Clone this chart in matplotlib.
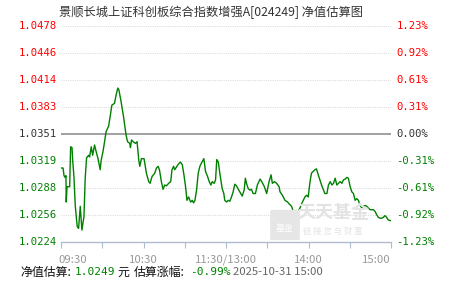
import matplotlib
matplotlib.use('Agg')
import matplotlib.pyplot as plt
from matplotlib.patches import FancyBboxPatch

plt.rcParams['font.family'] = ['Noto Sans CJK SC', 'DejaVu Sans']

# data: minutes since 09:30 (trading minutes, lunch break removed) and estimated NAV
minutes = [0, 1.5, 2.2, 2.9, 3.6, 3.8, 4.4, 6.3, 7.0, 8.0, 8.5, 9.4, 10.4, 11.8, 12.8, 14.0,
           15.2, 16.7, 17.6, 18.6, 20.1, 20.8, 22.0, 23.0, 24.4, 25.6, 26.8, 28.5, 29.2, 30.5,
           31.7, 32.8, 34.6, 35.7, 37.0, 38.9, 40.1, 41.3, 42.1, 43.7, 45.5, 47.3, 48.4, 50.0,
           50.5, 51.3, 52.4, 54.2, 55.3, 56.6, 57.3, 58.5, 60.4, 62.1, 63.8, 64.8, 66.2, 68.2,
           69.4, 70.6, 71.6, 73.0, 74.2, 75.4, 76.6, 78.3, 79.8, 80.7, 81.9, 82.7, 83.9, 85.1,
           86.8, 88.2, 89.4, 90.6, 91.6, 92.8, 94.3, 95.5, 96.4, 97.4, 98.6, 99.8, 101.0, 102.2,
           103.9, 105.1, 106.6, 107.8, 109.0, 110.0, 111.4, 112.4, 113.3, 114.4, 115.5, 117.2,
           118.4, 119.1, 120.4, 121.6, 122.8, 124.0, 125.2, 126.4, 127.6, 129.3, 130.7, 131.8,
           133.2, 134.1, 134.9, 136.1, 137.3, 138.5, 139.7, 141.4, 142.8, 144.8, 146.0, 147.9,
           149.6, 151.3, 152.8, 153.7, 155.2, 156.8, 158.6, 159.3, 161.0, 162.9, 164.8, 165.8,
           167.7, 168.9, 170.2, 171.3, 172.6, 173.8, 175.0, 176.2, 177.4, 178.6, 179.8, 180.5,
           181.3, 182.2, 183.5, 184.7, 185.8, 187.1, 188.3, 189.5, 190.7, 191.9, 193.4, 194.5,
           195.8, 197.0, 198.2, 199.4, 200.6, 201.8, 203.0, 204.3, 205.4, 206.7, 207.9, 209.0,
           210.3, 211.5, 212.7, 213.9, 215.1, 216.3, 217.5, 218.8, 219.9, 221.2, 222.4, 223.5,
           224.8, 226.0, 227.2, 228.4, 229.6, 230.8, 232.0, 233.3, 234.4, 235.6, 236.8, 238.0,
           240.0]
nav = [1.0311, 1.0311, 1.0302, 1.0300, 1.0302, 1.0271, 1.0289, 1.0289, 1.0336, 1.0335, 1.0320,
       1.0301, 1.0266, 1.0242, 1.0240, 1.0266, 1.0238, 1.0254, 1.0299, 1.0323, 1.0326, 1.0324,
       1.0336, 1.0326, 1.0338, 1.0330, 1.0323, 1.0309, 1.0320, 1.0330, 1.0342, 1.0354, 1.0360,
       1.0371, 1.0385, 1.0387, 1.0397, 1.0405, 1.0403, 1.0389, 1.0371, 1.0350, 1.0342, 1.0340,
       1.0335, 1.0344, 1.0342, 1.0340, 1.0342, 1.0320, 1.0313, 1.0322, 1.0322, 1.0305, 1.0295,
       1.0293, 1.0301, 1.0305, 1.0311, 1.0313, 1.0309, 1.0295, 1.0286, 1.0291, 1.0290, 1.0293,
       1.0295, 1.0309, 1.0313, 1.0309, 1.0312, 1.0315, 1.0318, 1.0315, 1.0303, 1.0289, 1.0273,
       1.0277, 1.0271, 1.0273, 1.0270, 1.0273, 1.0285, 1.0305, 1.0313, 1.0317, 1.0322, 1.0307,
       1.0301, 1.0295, 1.0291, 1.0295, 1.0293, 1.0297, 1.0321, 1.0318, 1.0305, 1.0287, 1.0281,
       1.0273, 1.0271, 1.0273, 1.0272, 1.0277, 1.0283, 1.0292, 1.0290, 1.0285, 1.0281, 1.0278,
       1.0285, 1.0299, 1.0293, 1.0287, 1.0285, 1.0286, 1.0281, 1.0281, 1.0291, 1.0298, 1.0295,
       1.0289, 1.0281, 1.0295, 1.0303, 1.0293, 1.0295, 1.0293, 1.0289, 1.0283, 1.0279, 1.0273,
       1.0271, 1.0269, 1.0266, 1.0260, 1.0256, 1.0257, 1.0260, 1.0264, 1.0269, 1.0273, 1.0277,
       1.0279, 1.0277, 1.0287, 1.0297, 1.0305, 1.0307, 1.0309, 1.0310, 1.0303, 1.0297, 1.0291,
       1.0286, 1.0281, 1.0281, 1.0291, 1.0295, 1.0291, 1.0293, 1.0299, 1.0291, 1.0293, 1.0295,
       1.0293, 1.0297, 1.0298, 1.0300, 1.0299, 1.0289, 1.0283, 1.0281, 1.0273, 1.0275, 1.0273,
       1.0267, 1.0264, 1.0266, 1.0267, 1.0266, 1.0264, 1.0262, 1.0262, 1.0262, 1.0260, 1.0256,
       1.0253, 1.0252, 1.0252, 1.0253, 1.0255, 1.0253, 1.0250, 1.0249]

base_nav = 1.0351
nav_levels = [1.0478, 1.0446, 1.0414, 1.0383, 1.0351, 1.0319, 1.0288, 1.0256, 1.0224]
pct_labels = ['1.23%', '0.92%', '0.61%', '0.31%', '0.00%', '-0.31%', '-0.61%', '-0.92%', '-1.23%']
tick_pos = [0, 30, 60, 90, 120, 150, 180, 210, 240]
time_labels = {0: '09:30', 60: '10:30', 120: '11:30/13:00', 180: '14:00', 240: '15:00'}

title = '景顺长城上证科创板综合指数增强A[024249] 净值估算图'
last_nav = '1.0249'
last_pct = '-0.99%'
stamp = '2025-10-31 15:00'

W, H = 451, 281
fig = plt.figure(figsize=(W / 100, H / 100), dpi=100)
ax = fig.add_axes([61 / W, (H - 242) / H, 330 / W, 216 / H])
ax.set_xlim(0, 240)
ax.set_ylim(nav_levels[-1], nav_levels[0])

for s in ['top', 'left', 'right']:
    ax.spines[s].set_visible(False)
ax.spines['bottom'].set_color('#b0bccc')
ax.spines['bottom'].set_linewidth(1)

for lv in nav_levels[:-1]:
    if lv == base_nav:
        ax.axhline(lv, color='#999999', lw=1.3, zorder=1)
    else:
        ax.axhline(lv, color='#dddddd', lw=0.8, ls=(0, (1, 1)), zorder=1)

ax.plot(minutes, nav, color='#008000', lw=1, zorder=3)

ax.set_xticks(tick_pos)
ax.set_xticklabels([])
ax.tick_params(axis='x', length=4, color='#b0bccc', direction='out')
ax.set_yticks([])

mono = 'DejaVu Sans Mono'
for lv, pl in zip(nav_levels, pct_labels):
    if lv > base_nav + 1e-9:
        c = '#ff0000'
    elif lv < base_nav - 1e-9:
        c = '#008000'
    else:
        c = '#333333'
    ax.annotate(f'{lv:.4f}', xy=(0, lv), xycoords=('axes fraction', 'data'), xytext=(-3, 0),
                textcoords='offset points', ha='right', va='center', color=c,
                fontsize=7.6, family=mono)
    ax.annotate(pl, xy=(1, lv), xycoords=('axes fraction', 'data'), xytext=(4, 0),
                textcoords='offset points', ha='left', va='center', color=c,
                fontsize=7.6, family=mono)

for t, lab in time_labels.items():
    ha = 'center'
    if t == 0:
        ha = 'left'
    elif t == 240:
        ha = 'right'
    ax.annotate(lab, xy=(t, 0), xycoords=('data', 'axes fraction'), xytext=(-2 if t == 0 else 0, -13),
                textcoords='offset points', ha=ha, va='center', color='#999999', fontsize=8.2)

# watermark
wm = FancyBboxPatch((272 / W, (H - 239) / H), 26 / W, 28 / H, boxstyle='round,pad=0.004',
                    transform=fig.transFigure, fc='#e6e6e6', ec='none', zorder=0)
fig.patches.append(wm)
fig.text(285 / W, (H - 228) / H, '基金', ha='center', va='center', color='#ffffff', fontsize=6.5)
fig.text(333 / W, (H - 212) / H, '天天基金', ha='center', va='center', color='#e3e3e3',
         fontsize=13, fontweight='bold')
fig.text(333 / W, (H - 231) / H, '链 接 您 与 财 富', ha='center', va='center', color='#e3e3e3',
         fontsize=6)

fig.text(211 / W, (H - 12) / H, title, ha='center', va='center', color='#333333', fontsize=8.8)

yb = (H - 272) / H
fig.text(20 / W, yb, '净值估算:', ha='left', va='center', color='#111111', fontsize=8.6)
fig.text(75 / W, yb, last_nav, ha='left', va='center', color='#008000', fontsize=8, family=mono)
fig.text(117 / W, yb, '元', ha='left', va='center', color='#111111', fontsize=8.6)
fig.text(134 / W, yb, '估算涨幅:', ha='left', va='center', color='#111111', fontsize=8.6)
fig.text(190 / W, yb, last_pct, ha='left', va='center', color='#008000', fontsize=8, family=mono)
fig.text(233 / W, yb, stamp, ha='left', va='center', color='#666666', fontsize=8.2)

fig.savefig('out.png', dpi=100)
